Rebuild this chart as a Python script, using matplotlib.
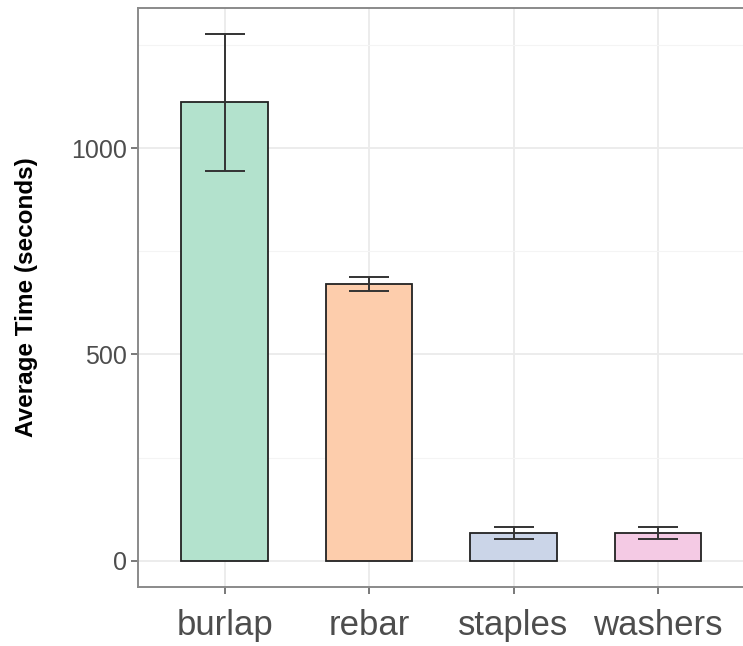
import numpy as np
import matplotlib.pyplot as plt
from matplotlib.ticker import MultipleLocator

materials = ['burlap', 'rebar', 'staples', 'washers']
avgTime = [1111, 671, 68, 68]
stdErr = [166, 17, 15, 15]
fills = ['#B3E2CD', '#FDCDAC', '#CBD5E8', '#F4CAE4']

plt.rcParams['font.family'] = ['Liberation Sans', 'DejaVu Sans']

fig = plt.figure(figsize=(7.43, 6.46), dpi=100)
ax = fig.add_axes([138/743, 1 - 587/646, 1 - 138/743 + 0.01, (587 - 8)/646])

pos = np.arange(1, len(materials) + 1)
ax.bar(pos, avgTime, width=0.6, color=fills, edgecolor='#222222', linewidth=1.3, zorder=3)
ax.errorbar(pos, avgTime, yerr=stdErr, fmt='none', ecolor='#333333',
            elinewidth=1.4, capsize=14.5, capthick=1.4, zorder=4)

ax.set_xlim(0.40, 4.64)
ax.set_ylim(-63, 1339)
ax.set_xticks(pos)
ax.set_xticklabels(materials)
ax.yaxis.set_major_locator(MultipleLocator(500))
ax.yaxis.set_minor_locator(MultipleLocator(250))

ax.grid(True, which='major', color='#EBEBEB', linewidth=1.3, zorder=0)
ax.grid(True, which='minor', axis='y', color='#F4F4F4', linewidth=0.8, zorder=0)
ax.tick_params(axis='y', which='minor', length=0)
ax.tick_params(axis='both', which='major', length=5, width=1.1, color='#555555',
               labelcolor='#4D4D4D')
ax.tick_params(axis='x', labelsize=25, pad=11)
ax.tick_params(axis='y', labelsize=18, pad=3)

for side in ['left', 'bottom', 'top']:
    ax.spines[side].set_color('#8A8A8A')
    ax.spines[side].set_linewidth(1.4)
ax.spines['right'].set_visible(False)

ax.set_ylabel('Average Time (seconds)', fontsize=17.5, fontweight='bold')
ax.yaxis.set_label_coords(-0.163, 0.5)

fig.savefig('out.png', dpi=100)
